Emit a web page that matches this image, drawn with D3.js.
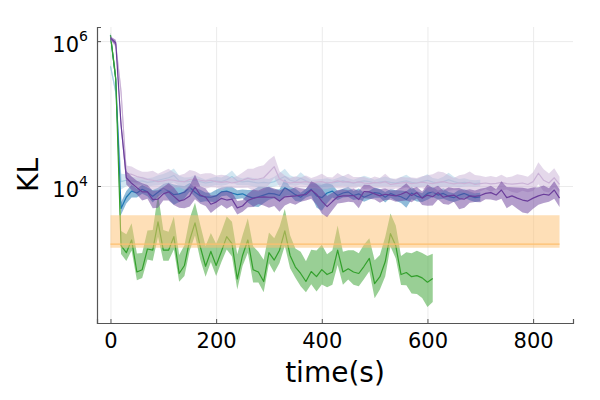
<!DOCTYPE html>
<html>
<head>
<meta charset="utf-8">
<script src="https://cdn.jsdelivr.net/npm/d3@7"></script>
<style>
    body { margin: 0; background: #fff; }
    svg { font-family: "DejaVu Sans", sans-serif; }
</style>
</head>
<body>
<svg id="vis1" width="600" height="400"></svg>
<script>
// sample spacing of every run, in seconds
let step = 10;

let lightBlueValues = [
    450000, 200000, 11500, 12000, 11800, 11500, 11800, 11200, 11500, 12000,
    12500, 13000, 14000, 11800, 11500, 11600, 12000, 11500, 11000, 11300,
    11800, 11500, 12200, 13500, 11800, 11400, 11700, 11300, 11000, 11200,
    11000, 11500, 12500, 13500, 12000, 11500, 12800, 11800, 11000, 10800,
    11000, 11200, 11000, 11300, 11800, 11200, 11000, 11400, 11800, 11500,
    11000, 11300, 11600, 11200, 11000, 11400, 11800, 11200, 11000, 11500,
    12000, 11300, 11000, 11500, 12200, 11500, 11000, 11200, 11000, 10800,
    11000];
let lightBlueBand = [
    1.07, 1.14, 1.28, 1.21, 1.14, 1.14, 1.14, 1.14, 1.14, 1.17,
    1.17, 1.21, 1.25, 1.17, 1.14, 1.14, 1.17, 1.14, 1.11, 1.14,
    1.14, 1.14, 1.17, 1.21, 1.14, 1.11, 1.14, 1.14, 1.14, 1.14,
    1.14, 1.17, 1.21, 1.28, 1.17, 1.14, 1.21, 1.14, 1.11, 1.14,
    1.14, 1.14, 1.11, 1.14, 1.17, 1.14, 1.11, 1.14, 1.17, 1.14,
    1.11, 1.14, 1.17, 1.14, 1.11, 1.17, 1.21, 1.14, 1.14, 1.17,
    1.21, 1.14, 1.14, 1.17, 1.25, 1.17, 1.14, 1.14, 1.11, 1.11,
    1.11];

let blueValues = [
    1200000, 300000, 4900, 7000, 8500, 8000, 9000, 8300, 7200, 8200,
    9300, 8500, 7600, 7800, 8200, 9600, 8200, 7300, 7100, 7000,
    7300, 8300, 8500, 8000, 7600, 7800, 7200, 6800, 7100, 7500,
    7900, 7800, 7400, 9500, 8500, 7600, 7000, 8000, 9000, 7300,
    6900, 8000, 8500, 7400, 8000, 8300, 7400, 7800, 7000, 7500,
    8100, 7900, 7000, 7900, 7400, 7100, 6500, 8000, 7200, 6900,
    7900, 8300, 7500, 7900, 7200, 6900, 7500, 7900, 7300, 6900,
    7100];
let blueBand = [
    1.08, 1.15, 1.22, 1.22, 1.22, 1.15, 1.15, 1.15, 1.22, 1.15,
    1.15, 1.3, 1.38, 1.3, 1.22, 1.15, 1.15, 1.22, 1.15, 1.15,
    1.22, 1.15, 1.15, 1.22, 1.15, 1.15, 1.22, 1.3, 1.38, 1.3,
    1.22, 1.15, 1.22, 1.3, 1.15, 1.22, 1.15, 1.15, 1.22, 1.45,
    1.52, 1.38, 1.22, 1.15, 1.15, 1.18, 1.15, 1.18, 1.15, 1.15,
    1.18, 1.15, 1.18, 1.15, 1.18, 1.22, 1.3, 1.22, 1.18, 1.15,
    1.22, 1.18, 1.15, 1.18, 1.15, 1.15, 1.18, 1.15, 1.15, 1.15,
    1.15];

let greenValues = [
    1200000, 300000, 1500, 1200, 1800, 650, 700, 1350, 1300, 3200,
    1300, 1300, 2000, 620, 800, 1800, 3100, 1450, 780, 1250,
    800, 1250, 2000, 1600, 520, 1100, 1800, 700, 650, 480,
    1200, 950, 1300, 2400, 1100, 760, 620, 480, 660, 560,
    700, 600, 650, 1300, 650, 720, 650, 620, 780, 1000,
    450, 560, 900, 2200, 1500, 600, 640, 560, 580, 540,
    470, 528];
// the green spread is lopsided: it reaches further up than down
let greenBandLow = [
    1.1, 1.2, 1.3, 1.3, 1.4, 1.3, 1.3, 1.4, 1.4, 1.6,
    1.4, 1.4, 1.5, 1.3, 1.4, 1.4, 1.5, 1.5, 1.4, 1.4,
    1.4, 1.4, 1.5, 1.5, 1.4, 1.4, 1.5, 1.5, 1.4, 1.4,
    1.4, 1.5, 1.5, 1.6, 1.5, 1.4, 1.5, 1.4, 1.5, 1.6,
    1.6, 1.5, 1.5, 1.6, 1.5, 1.4, 1.5, 1.5, 1.5, 1.5,
    1.6, 1.5, 1.6, 1.5, 1.5, 1.4, 1.5, 1.7, 1.8, 1.9,
    2.2, 2.1];
let greenBandHigh = [
    1.1, 1.3, 1.6, 1.8, 1.7, 1.8, 1.7, 1.8, 1.9, 2.4,
    1.9, 1.8, 1.9, 1.8, 1.9, 2.0, 1.9, 2.0, 1.9, 1.8,
    2.0, 1.9, 1.9, 2.0, 2.2, 1.9, 2.0, 2.1, 1.9, 2.0,
    1.9, 2.0, 2.1, 2.0, 1.9, 1.8, 2.0, 1.9, 2.0, 2.3,
    2.2, 1.9, 2.0, 2.2, 1.9, 1.8, 2.0, 1.9, 2.0, 1.9,
    2.1, 2.0, 2.2, 1.9, 1.9, 1.8, 1.9, 2.1, 2.2, 2.2,
    2.3, 2.2];

// reference level, flat over the whole run
let orangeTimes = [0, 850];
let orangeValues = [1580, 1580];
let orangeLow = [1405, 1405];
let orangeHigh = [3940, 3940];

let lightPurpleValues = [
    1100000, 900000, 200000, 15000, 14500, 13500, 13000, 12300, 12000, 11500,
    11800, 12200, 12000, 11600, 11500, 12300, 12500, 12000, 11700, 12000,
    11500, 11200, 11500, 11000, 11400, 12000, 12800, 12200, 12500, 13000,
    15500, 18500, 12500, 11500, 11000, 11300, 11200, 11500, 11000, 11300,
    11500, 11000, 11200, 11800, 11300, 11500, 11000, 11400, 11000, 10800,
    11200, 11000, 11500, 10500, 10800, 11000, 11200, 10800, 11000, 11300,
    11000, 10800, 11200, 11500, 11000, 10700, 11000, 10800, 11200, 10500,
    10800, 11000, 10700, 10900, 11200, 10800, 10600, 10800, 11000, 10500,
    11500, 15000, 12000, 11000, 13000, 10500];
let lightPurpleBand = [
    1.07, 1.11, 1.21, 1.28, 1.28, 1.25, 1.21, 1.28, 1.35, 1.28,
    1.35, 1.42, 1.28, 1.21, 1.28, 1.35, 1.28, 1.21, 1.28, 1.25,
    1.21, 1.28, 1.21, 1.17, 1.21, 1.28, 1.35, 1.42, 1.49, 1.49,
    1.49, 1.42, 1.28, 1.21, 1.17, 1.21, 1.17, 1.21, 1.17, 1.21,
    1.28, 1.21, 1.17, 1.28, 1.21, 1.28, 1.21, 1.17, 1.21, 1.17,
    1.21, 1.17, 1.28, 1.21, 1.17, 1.21, 1.17, 1.21, 1.17, 1.21,
    1.28, 1.35, 1.42, 1.35, 1.28, 1.21, 1.28, 1.35, 1.42, 1.35,
    1.28, 1.21, 1.28, 1.21, 1.28, 1.21, 1.28, 1.35, 1.28, 1.28,
    1.35, 1.42, 1.42, 1.35, 1.35, 1.28];

let purpleValues = [
    1100000, 950000, 70000, 13000, 10900, 9500, 8300, 8300, 6500, 6600,
    7800, 8300, 7200, 6200, 6500, 7300, 9700, 7500, 7000, 5600,
    6000, 6760, 6400, 6600, 5000, 5300, 6300, 6760, 7000, 7100,
    7000, 7000, 6200, 7100, 7200, 7300, 7500, 7600, 8800, 7700,
    6200, 5200, 6100, 7100, 7300, 7300, 7400, 6500, 8400, 8300,
    7800, 7300, 7700, 7500, 7300, 7700, 8300, 7400, 8100, 6800,
    7500, 7100, 8100, 7000, 7300, 7500, 6700, 6600, 7300, 7200,
    7400, 7900, 8100, 7500, 8800, 6900, 7300, 6800, 6400, 6200,
    6800, 7300, 7700, 7500, 8800, 6800];
let purpleBand = [
    1.05, 1.1, 1.2, 1.24, 1.24, 1.24, 1.32, 1.24, 1.32, 1.32,
    1.24, 1.32, 1.32, 1.24, 1.32, 1.4, 1.48, 1.32, 1.32, 1.32,
    1.24, 1.24, 1.32, 1.24, 1.24, 1.2, 1.24, 1.32, 1.24, 1.32,
    1.4, 1.32, 1.4, 1.32, 1.24, 1.32, 1.24, 1.2, 1.32, 1.4,
    1.48, 1.4, 1.32, 1.24, 1.24, 1.2, 1.24, 1.32, 1.24, 1.24,
    1.2, 1.24, 1.2, 1.16, 1.2, 1.24, 1.32, 1.24, 1.2, 1.24,
    1.4, 1.32, 1.24, 1.24, 1.32, 1.24, 1.4, 1.32, 1.24, 1.2,
    1.24, 1.2, 1.24, 1.2, 1.32, 1.4, 1.32, 1.4, 1.48, 1.48,
    1.4, 1.32, 1.32, 1.24, 1.32, 1.32];

let xTicks = [0, 200, 400, 600, 800];
let yTickExponents = [4, 6];

// turns values + spread factors into points
function makeRun(values, bandLow, bandHigh) {
    return values.map(function (v, i) {
        return {t: i * step, v: v, lo: v / bandLow[i], hi: v * bandHigh[i]};
    });
}

let runs = [
    {color: "#a6cee3", data: makeRun(lightBlueValues, lightBlueBand, lightBlueBand)},
    {color: "#1f78b4", data: makeRun(blueValues, blueBand, blueBand)},
    {color: "#33a02c", data: makeRun(greenValues, greenBandLow, greenBandHigh)},
    {color: "#fdbf6f", data: orangeTimes.map(function (t, i) {
        return {t: t, v: orangeValues[i], lo: orangeLow[i], hi: orangeHigh[i]};
    })},
    {color: "#cab2d6", data: makeRun(lightPurpleValues, lightPurpleBand, lightPurpleBand)},
    {color: "#6a3d9a", data: makeRun(purpleValues, purpleBand, purpleBand)}
];

let svg = d3.select("svg#vis1");

let margin = {top: 27, right: 27, bottom: 77, left: 97};
let plotWidth = 600 - margin.left - margin.right;
let plotHeight = 400 - margin.top - margin.bottom;

let x = d3.scaleLinear()
    .domain([-25.5, 875.5])
    .range([0, plotWidth]);

let y = d3.scaleLog()
    .domain([Math.pow(10, 2.109), Math.pow(10, 6.195)])
    .range([plotHeight, 0]);

let plot = svg.append("g")
    .attr("transform", "translate(" + margin.left + "," + margin.top + ")");

svg.append("defs").append("clipPath").attr("id", "clip")
    .append("rect")
    .attr("width", plotWidth)
    .attr("height", plotHeight);

// grid
plot.append("g")
    .attr("transform", "translate(0," + plotHeight + ")")
    .call(d3.axisBottom(x).tickValues(xTicks).tickFormat("").tickSize(-plotHeight))
    .call(function (g) {
        g.select(".domain").remove();
        g.selectAll("line").attr("stroke", "#ebebeb");
    });

plot.append("g")
    .call(d3.axisLeft(y).tickValues(yTickExponents.map(function (e) { return Math.pow(10, e); }))
        .tickFormat("").tickSize(-plotWidth))
    .call(function (g) {
        g.select(".domain").remove();
        g.selectAll("line").attr("stroke", "#ebebeb");
    });

let marks = plot.append("g").attr("clip-path", "url(#clip)");

let ribbon = d3.area()
    .x(function (d) { return x(d.t); })
    .y0(function (d) { return y(d.lo); })
    .y1(function (d) { return y(d.hi); });

let line = d3.line()
    .x(function (d) { return x(d.t); })
    .y(function (d) { return y(d.v); });

runs.forEach(function (run) {
    marks.append("path")
        .datum(run.data)
        .attr("d", ribbon)
        .attr("fill", run.color)
        .attr("fill-opacity", 0.5)
        .attr("stroke", "none");

    marks.append("path")
        .datum(run.data)
        .attr("d", line)
        .attr("fill", "none")
        .attr("stroke", run.color)
        .attr("stroke-width", 1.2)
        .attr("stroke-linejoin", "round");
});

// axes
let xAxis = plot.append("g")
    .attr("transform", "translate(0," + plotHeight + ")")
    .call(d3.axisBottom(x).tickValues(xTicks).tickSize(-4).tickPadding(10));

xAxis.select(".domain").attr("stroke", "#555").attr("stroke-width", 1.2);
xAxis.selectAll(".tick line").attr("stroke", "#555");
xAxis.selectAll(".tick text")
    .attr("fill", "#000")
    .style("font-size", "21px")
    .style("font-family", "DejaVu Sans");

let yAxis = plot.append("g")
    .call(d3.axisLeft(y).tickValues(yTickExponents.map(function (e) { return Math.pow(10, e); }))
        .tickSize(-4).tickFormat(""));

yAxis.select(".domain").attr("stroke", "#555").attr("stroke-width", 1.2);
yAxis.selectAll(".tick line").attr("stroke", "#555");

// power-of-ten labels with superscript
yTickExponents.forEach(function (e) {
    let label = plot.append("text")
        .attr("x", -9)
        .attr("y", y(Math.pow(10, e)) + 11)
        .style("text-anchor", "end")
        .style("font-size", "21px");
    label.append("tspan").text("10");
    label.append("tspan")
        .attr("dy", -11)
        .style("font-size", "14px")
        .text(e);
});

svg.append("text")
    .attr("x", margin.left + plotWidth / 2)
    .attr("y", 382)
    .style("text-anchor", "middle")
    .style("font-size", "28px")
    .text("time(s)");

svg.append("text")
    .attr("transform", "translate(38," + (margin.top + plotHeight / 2) + ") rotate(-90)")
    .style("text-anchor", "middle")
    .style("font-size", "28px")
    .text("KL");
</script>
</body>
</html>
